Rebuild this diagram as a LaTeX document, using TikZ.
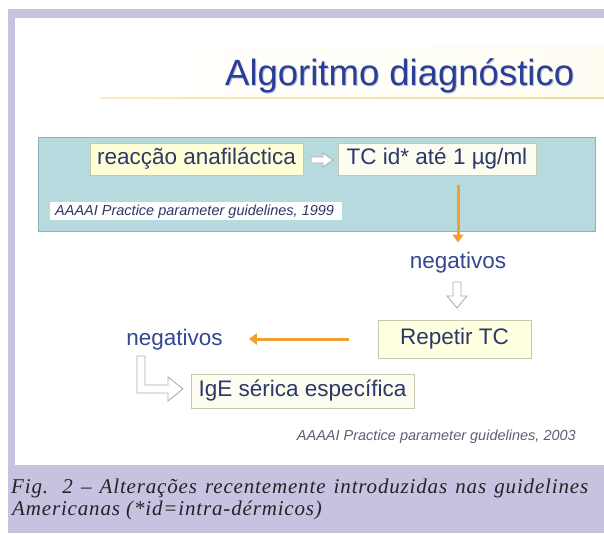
\documentclass[tikz,border=0pt]{standalone}
\usepackage{fontspec}
\setmainfont{Liberation Sans}
\newfontfamily\capfont[LetterSpace=4]{Liberation Serif}
\usetikzlibrary{arrows.meta}
\definecolor{lav}{RGB}{198,195,225}
\definecolor{titleblue}{RGB}{42,62,150}
\definecolor{panelfill}{RGB}{183,218,222}
\definecolor{paneledge}{RGB}{140,178,188}
\definecolor{boxtext}{RGB}{45,55,105}
\definecolor{negblue}{RGB}{52,72,145}
\definecolor{arrorange}{RGB}{240,160,50}
\definecolor{yline}{RGB}{245,218,150}
\definecolor{paleyellow}{RGB}{255,255,215}
\definecolor{paleboxedge}{RGB}{200,200,175}
\definecolor{hollowgray}{RGB}{175,175,175}
\definecolor{refgray}{RGB}{95,95,120}
\definecolor{captext}{RGB}{35,35,40}
\tikzset{
  boxfont/.style={font=\fontsize{22.5}{26}\selectfont},
  yellowbox/.style={draw=paleboxedge, fill=paleyellow, line width=0.8pt, boxfont, text=boxtext, inner sep=0pt},
  whitebox/.style={draw=paleboxedge, fill={rgb,255:red,252;green,253;blue,240}, line width=0.8pt, boxfont, text=boxtext, inner sep=0pt},
  negtext/.style={font=\fontsize{22.5}{26}\selectfont, text=negblue, inner sep=0pt},
  reftext/.style={font=\fontsize{14.5}{16}\selectfont\itshape, inner sep=0pt},
  orangearrow/.style={draw=arrorange, line width=3pt, -{Triangle[width=11pt,length=8pt]}},
  hollow/.style={draw=hollowgray, fill=white, line width=0.9pt, line join=miter},
  capstyle/.style={font=\capfont\itshape\fontsize{21}{24}\selectfont, text=captext, inner sep=0pt}
}
\begin{document}
\begin{tikzpicture}[x=1pt,y=-1pt]
\useasboundingbox (0,0) rectangle (604,533);
\fill[white] (0,0) rectangle (604,533);
\fill[lav] (8,9) rectangle (604,533);
\fill[white] (15,18) rectangle (604,465);
% faint glow behind the title
\shade[left color=white, right color={rgb,255:red,255;green,253;blue,242}] (100,45) rectangle (604,97);
\shade[left color={rgb,255:red,250;green,235;blue,190}, right color=yline] (100,97.2) rectangle (604,98.9);
% title
\node[anchor=base west, inner sep=0pt, font=\fontsize{36.5}{40}\selectfont, text={rgb,255:red,185;green,192;blue,220}] at (226,86) {Algoritmo diagnóstico};
\node[anchor=base west, inner sep=0pt, font=\fontsize{36.5}{40}\selectfont, text=titleblue] (title) at (225,85) {Algoritmo diagnóstico};
% blue panel
\node[draw=paneledge, fill=panelfill, line width=1pt, minimum width=557pt, minimum height=94pt, inner sep=0pt] (panel) at (316.5,184) {};
\node[yellowbox, minimum width=213pt, minimum height=32pt] (reac) at (196.5,159) {reacção anafiláctica};
\node[whitebox, minimum width=198pt, minimum height=32pt] (tc) at (437,159) {TC id* até 1 µg/ml};
\node[fill=white, minimum width=292pt, minimum height=18pt, inner sep=0pt] (ref1box) at (196,211) {};
\node[reftext, text=boxtext, anchor=west] (ref1) at (55,211.5) {AAAAI Practice parameter guidelines, 1999};
% small hollow arrow between the two boxes
\draw[hollow] (311,157) -- (323,157) -- (323,153) -- (333,160) -- (323,167) -- (323,163) -- (311,163) -- cycle;
% orange arrow down
\coordinate (o1s) at (458,185);
\node[negtext, anchor=base] (neg1) at (458,268) {negativos};
\draw[orangearrow] (o1s) -- ([yshift=9pt]neg1.north);
% hollow down arrow
\draw[hollow] (453,282) -- (461,282) -- (461,296) -- (467,296) -- (457,308) -- (447,296) -- (453,296) -- cycle;
% Repetir TC
\node[yellowbox, fill={rgb,255:red,255;green,255;blue,225}, minimum width=153pt, minimum height=38pt] (rep) at (454.5,339) {Repetir TC};
\node[negtext, anchor=base] (neg2) at (174.5,345) {negativos};
\draw[orangearrow] ([xshift=-29pt]rep.west) -- ([xshift=26pt]neg2.east |- rep.west);
% hollow L arrow
\draw[hollow] (137,356) -- (137,393) -- (168,393) -- (168,401) -- (183,389) -- (168,377) -- (168,385) -- (145,385) -- (145,356) -- cycle;
% IgE
\node[whitebox, minimum width=223pt, minimum height=34pt] (ige) at (302.5,391) {IgE sérica específica};
% bottom reference
\node[reftext, text=refgray, anchor=base east] (ref2) at (576,440) {AAAAI Practice parameter guidelines, 2003};
% caption
\node[capstyle, anchor=base west] (cap1) at (11,493) {\makebox[577pt][s]{Fig. 2 – Alterações recentemente introduzidas nas guidelines}};
\node[capstyle, anchor=base west] (cap2) at (12,515) {Americanas (*id=intra-dérmicos)};
\end{tikzpicture}
\end{document}
